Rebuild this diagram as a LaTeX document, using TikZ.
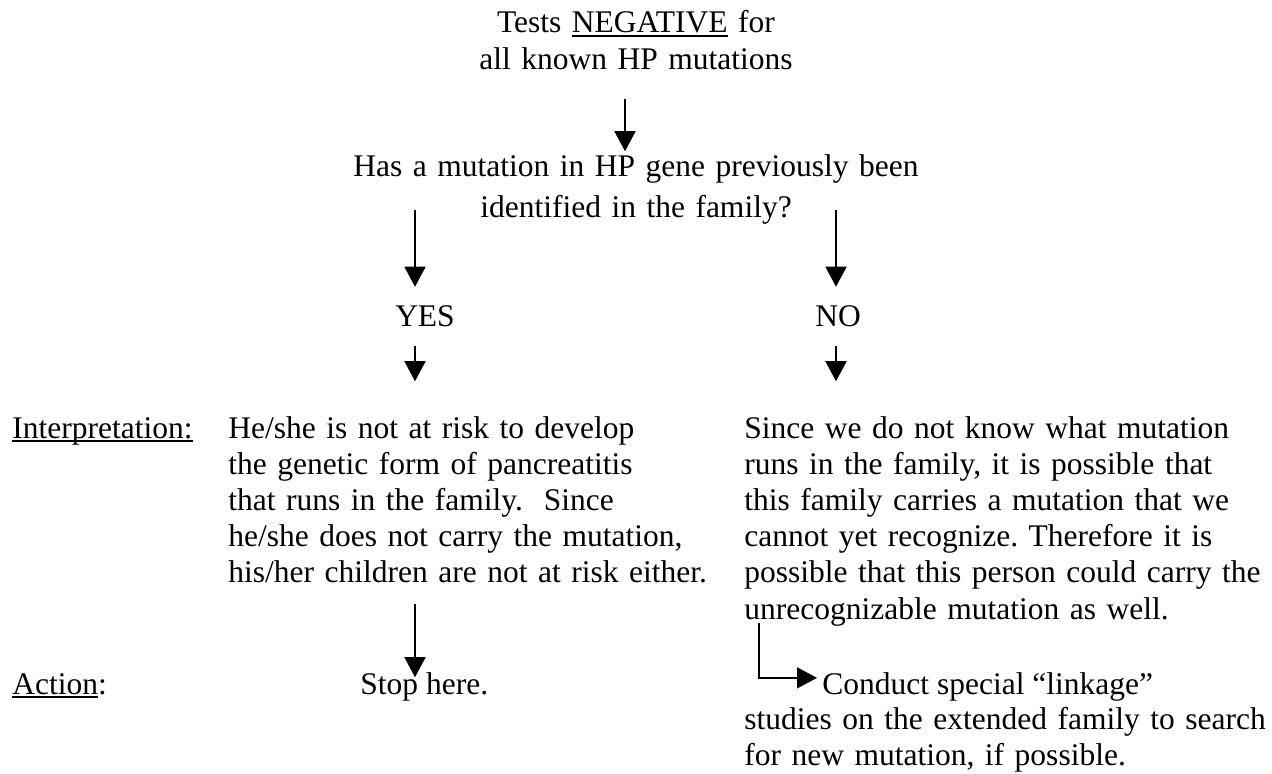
\documentclass[tikz,border=0pt]{standalone}
\usepackage{fontspec}
\setmainfont{Liberation Serif}
\usetikzlibrary{arrows.meta,positioning}
\newcommand\ulined[1]{\setbox0\hbox{#1}\rlap{\rule[-2pt]{\wd0}{0.9pt}}\box0}

\begin{document}
\begin{tikzpicture}[x=0.5pt,y=-0.5pt]
  \tikzstyle{txt}=[inner sep=0pt, font=\fontsize{15.75}{18.1}\selectfont\frenchspacing]
  \tikzstyle{block}=[txt, anchor=base west, text width=300pt, align=left]
  \tikzstyle{centred}=[txt, anchor=base, text width=300pt, align=center]
  \tikzstyle{arr}=[line width=0.8pt, -{Triangle[length=10pt,width=10.5pt]}]

  \useasboundingbox (0,0) rectangle (1272,774);

  \node[centred] (test) at (636,33) {Tests \ulined{NEGATIVE}\ for\\all known HP mutations};
  \node[centred] (question) at (636,177) {Has a mutation in HP gene previously been\\[2pt] identified in the family?};
  \node[txt, anchor=base] (yes) at (425,327) {YES};
  \node[txt, anchor=base] (no) at (838,327) {NO};

  \node[txt, anchor=base west] (interp) at (12,438) {\ulined{Interpretation:}};
  \node[block] (yestext) at (228,438) {He/she is not at risk to develop\\the genetic form of pancreatitis\\that runs in the family.\ \ Since\\he/she does not carry the mutation,\\his/her children are not at risk either.};
  \node[block, text width=262pt] (notext) at (744,438) {Since we do not know what mutation\\runs in the family, it is possible that\\this family carries a mutation that we\\cannot yet recognize. Therefore it is\\possible that this person could carry the\\unrecognizable mutation as well.};

  \node[txt, anchor=base west] (action) at (12,694) {\ulined{Action}:};
  \node[txt, anchor=base west] (stop) at (360,694) {Stop here.};
  \node[txt, anchor=base west] (conduct) at (822,694) {Conduct special “linkage”};
  \node[block, text width=262pt] (conductmore) at (744,729) {studies on the extended family to search\\for new mutation, if possible.};

  \coordinate (mx) at (625,0);
  \coordinate (lx) at (415,0);
  \coordinate (rx) at (836,0);
  \coordinate (qyes) at (415,210);
  \coordinate (qno) at (836,210);
  \coordinate (elbow) at (759,623);

  \draw[arr, shorten <=14.5pt, shorten >=1.75pt] (test.south -| mx) -- (question.north -| mx);
  \draw[arr, shorten >=9.5pt] (qyes) -- (yes.north -| qyes);
  \draw[arr, shorten >=9.5pt] (qno) -- (no.north -| qno);
  \draw[arr, shorten <=9pt, shorten >=17.25pt] (yes.south -| lx) -- (yestext.north -| lx);
  \draw[arr, shorten <=9pt, shorten >=17.25pt] (no.south -| rx) -- (notext.north -| rx);
  \draw[arr, shorten <=10.25pt, shorten >=-2.75pt] (yestext.south -| lx) -- (stop.north -| lx);
  \draw[arr, shorten >=2.5pt] (elbow) |- ([yshift=4.3pt]conduct.west);
\end{tikzpicture}
\end{document}
